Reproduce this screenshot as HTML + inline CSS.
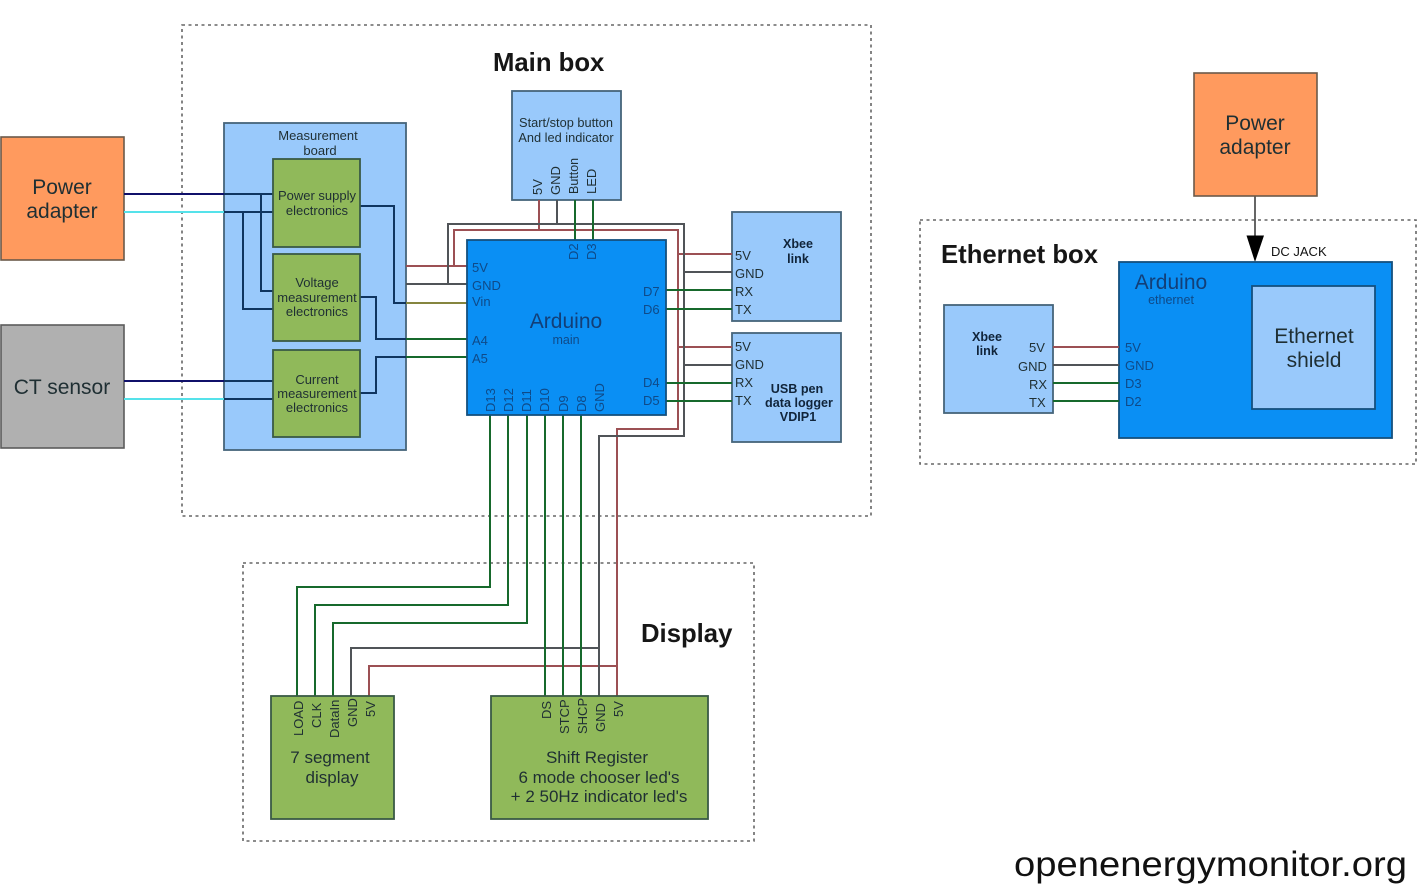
<!DOCTYPE html>
<html><head><meta charset="utf-8"><style>
html,body{margin:0;padding:0;background:#fff;width:1417px;height:884px;overflow:hidden}
svg{display:block;filter:blur(.3px)}
text{font-family:"Liberation Sans",sans-serif;fill:#1f2f33}
.c{text-anchor:middle}
.p{font-size:13px}
.pa{font-size:13px;fill:#0f4a88}
.b{fill:#99c9fb;stroke:#46647a;stroke-width:1.8}
.g{fill:#90b95a;stroke:#3a5a45;stroke-width:1.8}
.o{fill:#ff9a5e;stroke:#6a5a4a;stroke-width:1.6}
.a{fill:#0a8ff4;stroke:#14507e;stroke-width:1.8}
.d{fill:none;stroke:#666;stroke-width:1.6;stroke-dasharray:3 3.5}
.w{fill:none;stroke-width:2}
.r{stroke:#9c5054}.k{stroke:#505458}.n{stroke:#17692c}.y{stroke:#85853f}.u{stroke:#10106a}.t{stroke:#55e2ea}.m{stroke:#0f3560}
.ti{font-size:25.7px;font-weight:bold;fill:#161616}
.bd{font-weight:bold;font-size:12.6px;fill:#10243a}
</style></head><body>
<svg width="1417" height="884" viewBox="0 0 1417 884" xmlns="http://www.w3.org/2000/svg">
<rect class="d" x="182" y="25" width="689" height="491"/>
<rect class="d" x="243" y="563" width="511" height="278"/>
<rect class="d" x="920" y="220" width="496" height="244"/>

<rect class="o" x="1" y="137" width="123" height="123"/>
<rect x="1" y="325" width="123" height="123" fill="#b0b0b0" stroke="#5c5c5c" stroke-width="1.6"/>
<rect class="b" x="224" y="123" width="182" height="327"/>
<rect class="b" x="512" y="91" width="109" height="109"/>
<rect class="b" x="732" y="212" width="109" height="109"/>
<rect class="b" x="732" y="333" width="109" height="109"/>

<!-- input wires -->
<path class="w u" d="M124 194H224"/><path class="w t" d="M124 212H224"/>
<path class="w u" d="M124 381H224"/><path class="w t" d="M124 399H224"/>
<path class="w m" d="M224 194H273M224 212H273M261 194V291H273M243 212V309H273M224 381H273M224 399H273"/>
<path class="w m" d="M360 206H394V303H406M360 297H376V339H406M360 393H376V357H406"/>
<path class="w y" d="M406 303H467"/>
<path class="w n" d="M406 339H467M406 357H467"/>
<path class="w r" d="M406 266H467M454 266V230H678V429H617V696M539 200V230M678 254H732M678 347H732M617 666H369V696"/>
<path class="w k" d="M406 284H467M448 284V224H684V436H599V696M557 200V224M684 272H732M684 365H732M599 648H351V696"/>
<path class="w n" d="M575 200V240M593 200V240M666 290H732M666 309H732M666 383H732M666 401H732"/>
<path class="w n" d="M490 415V587H297V696M508 415V605H315V696M527 415V623H333V696M545 415V696M563 415V696M581 415V696"/>

<rect class="g" x="273" y="159" width="87" height="88"/>
<rect class="g" x="273" y="254" width="87" height="87"/>
<rect class="g" x="273" y="350" width="87" height="87"/>
<rect class="a" x="467" y="240" width="199" height="175"/>
<rect class="g" x="271" y="696" width="123" height="123"/>
<rect class="g" x="491" y="696" width="217" height="123"/>

<!-- Ethernet side -->
<path d="M1255 196V238" stroke="#555" stroke-width="1.8" fill="none"/>
<path d="M1246.500 235.500H1264L1255 262Z" fill="#000"/>
<rect class="o" x="1194" y="73" width="123" height="123"/>
<rect class="a" x="1119" y="262" width="273" height="176"/>
<rect class="b" x="1252" y="286" width="123" height="123" style="stroke:#14507e"/>
<rect class="b" x="944" y="305" width="109" height="108"/>
<path class="w r" d="M1053 347H1119"/><path class="w k" d="M1053 365H1119"/><path class="w n" d="M1053 383H1119M1053 401H1119"/>

<!-- titles -->
<text class="ti" x="493" y="71">Main box</text>
<text class="ti" x="641" y="642">Display</text>
<text class="ti" x="941" y="263">Ethernet box</text>
<text x="1014" y="876" style="font-size:35.500px;fill:#111" textLength="393" lengthAdjust="spacingAndGlyphs">openenergymonitor.org</text>

<g style="font-size:21px">
<text class="c" x="62" y="194">Power</text><text class="c" x="62" y="218">adapter</text>
<text class="c" x="62" y="394">CT sensor</text>
<text class="c" x="1255" y="130">Power</text><text class="c" x="1255" y="154">adapter</text>
<text class="c" x="1314" y="343">Ethernet</text><text class="c" x="1314" y="367">shield</text>
<text class="c" x="566" y="328" style="fill:#123f78">Arduino</text>
<text class="c" x="1171" y="289" style="fill:#123f78">Arduino</text>
</g>
<text class="c" x="566" y="344" style="font-size:12.500px;fill:#0f4a88">main</text>
<text class="c" x="1171" y="304" style="font-size:12.500px;fill:#0f4a88">ethernet</text>
<text x="1271" y="256" class="p" style="fill:#111">DC JACK</text>

<g class="c" style="font-size:13px;text-anchor:middle">
<text class="c" x="318" y="140">Measurement</text><text class="c" x="320" y="155">board</text>
<text class="c" x="317" y="200">Power supply</text><text class="c" x="317" y="215">electronics</text>
<text class="c" x="317" y="287">Voltage</text><text class="c" x="317" y="302">measurement</text><text class="c" x="317" y="316">electronics</text>
<text class="c" x="317" y="384">Current</text><text class="c" x="317" y="398">measurement</text><text class="c" x="317" y="412">electronics</text>
<text class="c" x="566" y="127" style="font-size:12.800px">Start/stop button</text><text class="c" x="566" y="142" style="font-size:12.800px">And led indicator</text>
</g>
<g class="bd">
<text class="c bd" x="798" y="248">Xbee</text><text class="c bd" x="798" y="263">link</text>
<text class="c bd" x="797" y="393">USB pen</text><text class="c bd" x="799" y="407">data logger</text><text class="c bd" x="798" y="421">VDIP1</text>
<text class="c bd" x="987" y="341">Xbee</text><text class="c bd" x="987" y="355">link</text>
</g>

<!-- Arduino pins -->
<g>
<text class="pa" x="472" y="272">5V</text><text class="pa" x="472" y="290">GND</text><text class="pa" x="472" y="306">Vin</text>
<text class="pa" x="472" y="345">A4</text><text class="pa" x="472" y="363">A5</text>
<text class="pa" x="643" y="296">D7</text><text class="pa" x="643" y="314">D6</text>
<text class="pa" x="643" y="387">D4</text><text class="pa" x="643" y="405">D5</text>
<text class="pa" x="1125" y="352">5V</text><text class="pa" x="1125" y="370">GND</text><text class="pa" x="1125" y="388">D3</text><text class="pa" x="1125" y="406">D2</text>
</g>
<g class="p">
<text class="p" x="735" y="260">5V</text><text class="p" x="735" y="278">GND</text><text class="p" x="735" y="296">RX</text><text class="p" x="735" y="314">TX</text>
<text class="p" x="735" y="351">5V</text><text class="p" x="735" y="369">GND</text><text class="p" x="735" y="387">RX</text><text class="p" x="735" y="405">TX</text>
<text class="p" x="1029" y="352">5V</text><text class="p" x="1018" y="371">GND</text><text class="p" x="1029" y="389">RX</text><text class="p" x="1029" y="407">TX</text>
</g>

<!-- rotated pins -->
<g>
<text class="pa" transform="translate(578,260) rotate(-90)">D2</text>
<text class="pa" transform="translate(596,260) rotate(-90)">D3</text>
<text class="pa" transform="translate(495,412) rotate(-90)">D13</text>
<text class="pa" transform="translate(513,412) rotate(-90)">D12</text>
<text class="pa" transform="translate(531,412) rotate(-90)">D11</text>
<text class="pa" transform="translate(549,412) rotate(-90)">D10</text>
<text class="pa" transform="translate(568,412) rotate(-90)">D9</text>
<text class="pa" transform="translate(586,412) rotate(-90)">D8</text>
<text class="pa" transform="translate(604,412) rotate(-90)">GND</text>
</g>
<g>
<text class="p" transform="translate(542,195) rotate(-90)">5V</text>
<text class="p" transform="translate(560,195) rotate(-90)">GND</text>
<text class="p" transform="translate(578,194) rotate(-90)" style="font-size:12.500px">Button</text>
<text class="p" transform="translate(596,194) rotate(-90)">LED</text>
<text class="p" transform="translate(303,736) rotate(-90)">LOAD</text>
<text class="p" transform="translate(321,728) rotate(-90)">CLK</text>
<text class="p" transform="translate(339,738) rotate(-90)">DataIn</text>
<text class="p" transform="translate(357,727) rotate(-90)">GND</text>
<text class="p" transform="translate(375,717) rotate(-90)">5V</text>
<text class="p" transform="translate(551,719) rotate(-90)">DS</text>
<text class="p" transform="translate(569,734) rotate(-90)">STCP</text>
<text class="p" transform="translate(587,734) rotate(-90)">SHCP</text>
<text class="p" transform="translate(605,732) rotate(-90)">GND</text>
<text class="p" transform="translate(623,717) rotate(-90)">5V</text>
</g>

<g style="font-size:17px">
<text class="c" x="330" y="763">7 segment</text><text class="c" x="332" y="783">display</text>
<text class="c" x="597" y="763">Shift Register</text>
<text class="c" x="599" y="783">6 mode chooser led's</text>
<text class="c" x="599" y="802">+ 2 50Hz indicator led's</text>
</g>
</svg>
</body></html>
